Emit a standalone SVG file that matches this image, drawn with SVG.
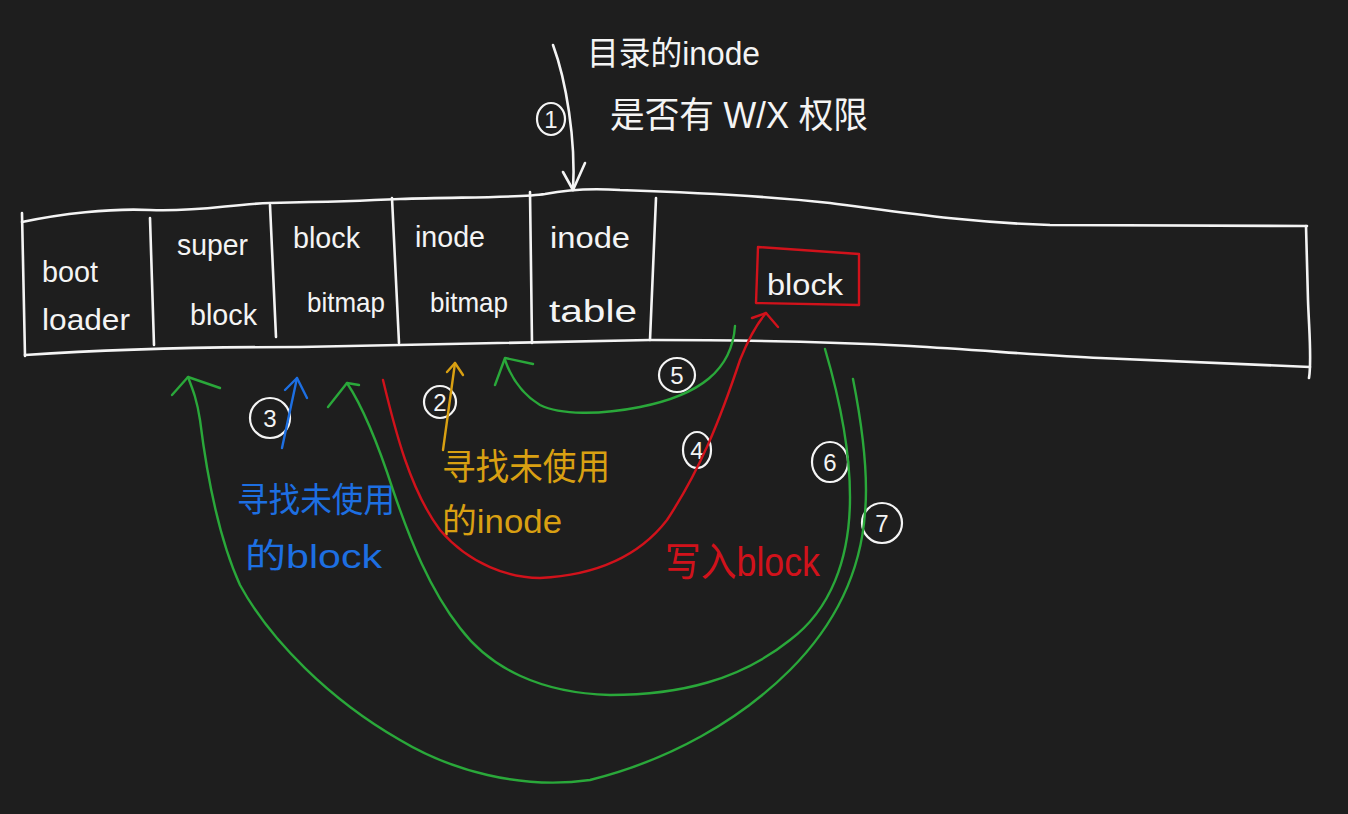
<svg xmlns="http://www.w3.org/2000/svg" width="1348" height="814" viewBox="0 0 1348 814">
<style>
.bg{fill:#1e1e1e}
.w{fill:none;stroke:#f4f4f4;stroke-width:2.6;stroke-linecap:round;stroke-linejoin:round}
.g{fill:none;stroke:#2aa83a;stroke-width:2.4;stroke-linecap:round;stroke-linejoin:round}
.r{fill:none;stroke:#d1121b;stroke-width:2.4;stroke-linecap:round;stroke-linejoin:round}
.b{fill:none;stroke:#1d6fe2;stroke-width:2.4;stroke-linecap:round;stroke-linejoin:round}
.y{fill:none;stroke:#d9a012;stroke-width:2.4;stroke-linecap:round;stroke-linejoin:round}
.c{fill:none;stroke:#f4f4f4;stroke-width:2.2}
text{font-family:"Liberation Sans","Noto Sans CJK SC",sans-serif}
.tw{fill:#f4f4f4}
.tb{fill:#1d6fe2}
.ty{fill:#d9a012}
.tr{fill:#d1121b}
.n{fill:#f4f4f4;font-size:24px;text-anchor:middle}
</style>
<rect class="bg" x="0" y="0" width="1348" height="814"/>

<g id="strip">
<path class="w" d="M22,222 C60,214 110,208 150,210 C200,212 230,204 270,203 C320,202 360,201 400,199 C460,197 520,198 545,194 C565,190 590,188 620,190 C680,192 760,195 830,203 C900,212 960,222 1050,225 L1307,226"/>
<path class="w" d="M22,213 L25,356"/>
<path class="w" d="M25,355 C100,350 200,347 300,347 C400,345 500,342 650,340 C750,340 850,343 910,346 C980,350 1050,356 1100,358 C1200,362 1280,366 1310,367"/>
<path class="w" d="M1306,226 L1308,300 C1309,330 1312,360 1309,378"/>
</g>

<g id="cell-boot-loader">
<text class="tw" x="42" y="282" font-size="30" textLength="56" lengthAdjust="spacingAndGlyphs">boot</text>
<text class="tw" x="42" y="330" font-size="30" textLength="88" lengthAdjust="spacingAndGlyphs">loader</text>
</g>
<g id="cell-super-block">
<path class="w" d="M150,218 L154,345"/>
<text class="tw" x="177" y="255" font-size="29" textLength="71" lengthAdjust="spacingAndGlyphs">super</text>
<text class="tw" x="190" y="325" font-size="29" textLength="67" lengthAdjust="spacingAndGlyphs">block</text>
</g>
<g id="cell-block-bitmap">
<path class="w" d="M270,205 L276,337"/>
<text class="tw" x="293" y="248" font-size="29" textLength="67" lengthAdjust="spacingAndGlyphs">block</text>
<text class="tw" x="307" y="312" font-size="28" textLength="78" lengthAdjust="spacingAndGlyphs">bitmap</text>
</g>
<g id="cell-inode-bitmap">
<path class="w" d="M392,198 L399,343"/>
<text class="tw" x="415" y="247" font-size="29" textLength="70" lengthAdjust="spacingAndGlyphs">inode</text>
<text class="tw" x="430" y="312" font-size="28" textLength="78" lengthAdjust="spacingAndGlyphs">bitmap</text>
</g>
<g id="cell-inode-table">
<path class="w" d="M530,192 L532,343"/>
<text class="tw" x="550" y="248" font-size="30" textLength="80" lengthAdjust="spacingAndGlyphs">inode</text>
<text class="tw" x="549" y="322" font-size="32" textLength="88" lengthAdjust="spacingAndGlyphs">table</text>
<path class="w" d="M656,198 L650,340"/>
</g>
<g id="data-block">
<path class="r" d="M758,247 L859,254 L859,305 L756,303 Z"/>
<text class="tw" x="767" y="295" font-size="30" textLength="76" lengthAdjust="spacingAndGlyphs">block</text>
</g>

<g id="label-top">
<text class="tw" x="587" y="65" font-size="33" textLength="173" lengthAdjust="spacingAndGlyphs">目录的inode</text>
<text class="tw" x="610" y="128" font-size="36" textLength="258" lengthAdjust="spacingAndGlyphs">是否有 W/X 权限</text>
</g>
<g id="label-block">
<text class="tb" x="237" y="512" font-size="34" textLength="158" lengthAdjust="spacingAndGlyphs">寻找未使用</text>
<text class="tb" x="245" y="568" font-size="34" textLength="137" lengthAdjust="spacingAndGlyphs">的block</text>
</g>
<g id="label-inode">
<text class="ty" x="442" y="480" font-size="36" textLength="168" lengthAdjust="spacingAndGlyphs">寻找未使用</text>
<text class="ty" x="442" y="533" font-size="34" textLength="120" lengthAdjust="spacingAndGlyphs">的inode</text>
</g>
<g id="label-write">
<text class="tr" x="665" y="576" font-size="40" textLength="155" lengthAdjust="spacingAndGlyphs">写入block</text>
</g>

<g id="step-markers">
<ellipse class="c" cx="551" cy="119" rx="14" ry="16"/><text class="n" x="551" y="128">1</text>
<ellipse class="c" cx="440" cy="402" rx="16" ry="16"/><text class="n" x="440" y="411">2</text>
<ellipse class="c" cx="270" cy="418" rx="20" ry="20"/><text class="n" x="270" y="427">3</text>
<ellipse class="c" cx="697" cy="450" rx="14" ry="18"/><text class="n" x="697" y="459">4</text>
<ellipse class="c" cx="677" cy="375" rx="18" ry="17"/><text class="n" x="677" y="384">5</text>
<ellipse class="c" cx="830" cy="462" rx="18" ry="20"/><text class="n" x="830" y="471">6</text>
<ellipse class="c" cx="882" cy="523" rx="20" ry="20"/><text class="n" x="882" y="532">7</text>
</g>

<g id="connectors">
<path class="w" d="M553,45 C566,80 576,140 573,190"/>
<path class="w" d="M563,172 L573,190 L585,163"/>
<path class="g" d="M735,326 C732,370 700,395 640,407 C600,415 560,415 540,405 C525,396 512,380 505,360"/>
<path class="g" d="M495,385 L505,358 L533,364"/>
<path class="r" d="M383,380 C395,430 410,490 440,530 C470,565 510,578 540,578 C600,575 640,555 667,520 C700,470 720,420 740,360 C750,335 760,320 766,313"/>
<path class="r" d="M752,318 L766,313 L778,327"/>
<path class="g" d="M825,349 C840,400 850,450 850,497 C850,560 830,610 790,640 C740,680 680,695 610,695 C540,693 490,668 460,628 C430,590 410,540 393,490 C380,450 365,410 347,383"/>
<path class="g" d="M328,407 L347,383 L359,385"/>
<path class="g" d="M853,379 C865,440 868,480 865,513 C860,580 830,630 790,670 C740,720 670,760 590,780 C520,790 450,770 400,740 C330,700 270,640 240,585 C215,530 205,460 200,420 C197,400 193,390 188,377"/>
<path class="g" d="M172,395 L188,377 L220,388"/>
<path class="b" d="M282,448 L297,378"/>
<path class="b" d="M285,390 L297,378 L307,398"/>
<path class="y" d="M443,450 L455,363"/>
<path class="y" d="M447,372 L455,363 L463,375"/>
</g>
</svg>
